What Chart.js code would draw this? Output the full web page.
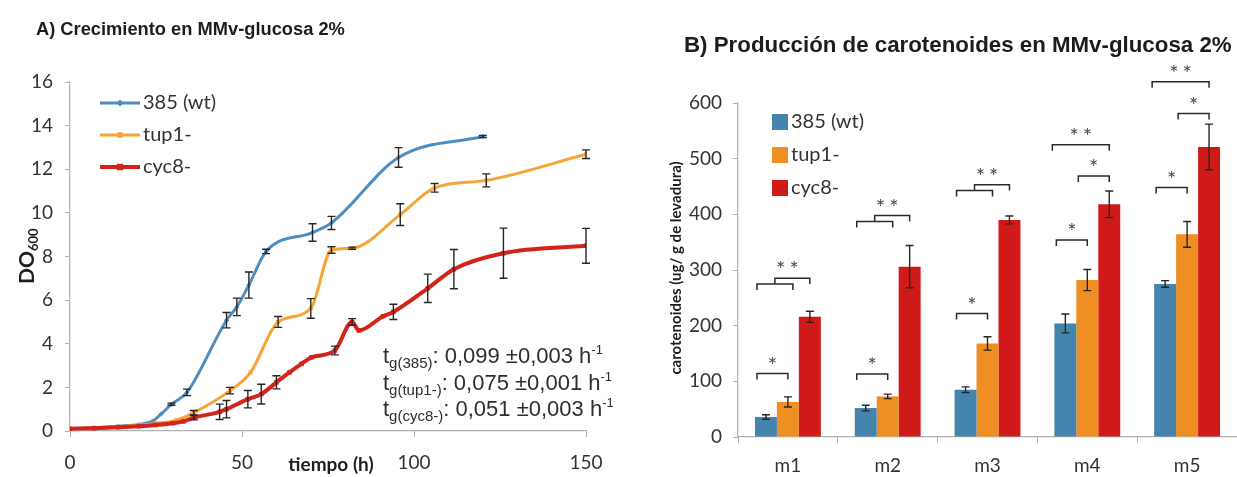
<!DOCTYPE html>
<html>
<head>
<meta charset="utf-8">
<script src="https://cdn.jsdelivr.net/npm/chart.js@4.4.1/dist/chart.umd.min.js"></script>
<style>
  html, body { margin: 0; padding: 0; background: #fff; width: 1237px; height: 477px; overflow: hidden; }
  .panel { position: absolute; top: 0; height: 477px; }
  #panelA { left: 0; width: 620px; }
  #panelB { left: 620px; width: 617px; }
  .ttl { position: absolute; font-family: "Liberation Sans", Arial, sans-serif; font-weight: bold;
         color: #1c1c1c; white-space: nowrap; z-index: 2; }
</style>
</head>
<body>
<div id="panelA" class="panel"><canvas id="growth"></canvas></div>
<div id="panelB" class="panel"><canvas id="carot"></canvas></div>
<div class="ttl" style="left:36px; top:18px; font-size:18.3px;">A) Crecimiento en MMv-glucosa 2%</div>
<div class="ttl" style="left:684px; top:32px; font-size:22.3px;">B) Producción de carotenoides en MMv-glucosa 2%</div>

<script>
// ---------- A) growth curves: optical density over time ----------
const strainNames = ['385 (wt)', 'tup1-', 'cyc8-'];

const hours385 = [0, 7, 14, 20, 24, 26.5, 29.5, 34, 45.5, 48.5, 52, 57, 70.5, 76, 95.5, 120];
const od385    = [0.1, 0.15, 0.22, 0.3, 0.45, 0.78, 1.23, 1.77, 5.08, 5.69, 6.69, 8.23, 9.1, 9.54, 12.54, 13.5];
const sd385    = [0, 0, 0, 0, 0, 0, 0.05, 0.15, 0.35, 0.4, 0.6, 0.1, 0.4, 0.3, 0.45, 0.05];

const hoursTup1 = [0, 7, 14, 20, 25, 31, 36, 46.5, 52.5, 60.5, 70, 76, 82, 96, 106, 121, 150];
const odTup1    = [0.1, 0.14, 0.2, 0.27, 0.35, 0.5, 0.84, 1.85, 2.69, 5.0, 5.62, 8.3, 8.38, 9.92, 11.15, 11.49, 12.69];
const sdTup1    = [0, 0, 0, 0, 0, 0, 0.1, 0.15, 0, 0.25, 0.45, 0.15, 0.05, 0.5, 0.2, 0.3, 0.2];

const hoursCyc8 = [0, 7, 14, 20, 25, 30, 33, 36, 43.5, 45.5, 51.7, 55.6, 60, 63.8, 67.3, 70.2, 77, 82, 84, 91, 94, 104, 111.6, 126, 150];
const odCyc8    = [0.1, 0.13, 0.17, 0.22, 0.28, 0.36, 0.44, 0.61, 0.88, 1.0, 1.46, 1.69, 2.23, 2.69, 3.08, 3.38, 3.69, 5.0, 4.61, 5.26, 5.46, 6.54, 7.42, 8.15, 8.49];
const sdCyc8    = [0, 0, 0, 0, 0, 0, 0, 0.1, 0.35, 0.4, 0.4, 0.45, 0.3, 0, 0, 0, 0.2, 0.15, 0, 0, 0.35, 0.65, 0.9, 1.15, 0.8];

const hourTicks = [0, 50, 100, 150];
const odTicks = [0, 2, 4, 6, 8, 10, 12, 14, 16];

// specific growth rates printed in the plot
const rateLabels = ['385', 'tup1-', 'cyc8-'];
const rateValues = ['0,099', '0,075', '0,051'];
const rateErrors = ['0,003', '0,001', '0,003'];

// ---------- B) carotenoid production per sample ----------
const samples = ['m1', 'm2', 'm3', 'm4', 'm5'];
const car385  = [36, 52, 85, 204, 275];
const carTup1 = [63, 73, 168, 282, 364];
const carCyc8 = [216, 306, 390, 418, 521];
const sdCar385  = [4, 5, 5, 17, 6];
const sdCarTup1 = [9, 4, 12, 19, 23];
const sdCarCyc8 = [10, 38, 7, 24, 41];
const carTicks = [0, 100, 200, 300, 400, 500, 600];

// significance between two strains: [sample, strain A, strain B, bracket level, stars]
const sigPairs = [
  [0, 0, 1, 114, '*'], [1, 0, 1, 113, '*'], [2, 0, 1, 222, '*'], [3, 0, 1, 354, '*'], [4, 0, 1, 448, '*'],
  [3, 1, 2, 469, '*'], [4, 1, 2, 581, '*'],
  [3, 0, 2, 525, '**'], [4, 0, 2, 638, '**']
];
// significance of (385, tup1-) together vs cyc8-: [sample, lower level, upper level, stars]
const sigGroups = [[0, 275, 285, '**'], [1, 387, 398, '**'], [2, 443, 453, '**']];

const lineColors = ['#4d8dbf', '#f6a534', '#d3241c'];
const barColors  = ['#4585ad', '#ef8e22', '#d01a1a'];
const tickFont = { family: 'Lato', size: 19 };
const axisGray = '#b0b0b0';
const textColor = '#333';

// ---------- shared: vertical error bars from each dataset's "errors" ----------
const errorBars = {
  id: 'errorBars',
  afterDatasetsDraw(chart) {
    const ctx = chart.ctx, ys = chart.scales.y;
    ctx.save();
    ctx.strokeStyle = '#262626';
    ctx.lineWidth = 1.4;
    chart.data.datasets.forEach((ds, di) => {
      if (!ds.errors) return;
      const meta = chart.getDatasetMeta(di);
      meta.data.forEach((el, i) => {
        const e = ds.errors[i];
        if (!e) return;
        const raw = ds.data[i];
        const v = typeof raw === 'object' ? raw.y : raw;
        const x = el.x, y1 = ys.getPixelForValue(v + e), y2 = ys.getPixelForValue(v - e);
        const cap = ds.capHalf || 4;
        ctx.beginPath();
        ctx.moveTo(x, y1); ctx.lineTo(x, y2);
        ctx.moveTo(x - cap, y1); ctx.lineTo(x + cap, y1);
        ctx.moveTo(x - cap, y2); ctx.lineTo(x + cap, y2);
        ctx.stroke();
      });
    });
    ctx.restore();
  }
};

function runs(parts, ctx, x, y) {
  // draws a sequence of text pieces with their own size/offset; returns end x
  parts.forEach(p => {
    ctx.font = (p.weight || '') + ' ' + p.size + 'px ' + (p.family || 'Lato');
    ctx.fillText(p.t, x, y + (p.dy || 0));
    x += ctx.measureText(p.t).width;
  });
  return x;
}

// ---------- panel A decorations: legend, axis titles, growth rates ----------
const growthDecor = {
  id: 'growthDecor',
  afterDraw(chart) {
    const ctx = chart.ctx;
    ctx.save();
    // legend
    const ly = [103, 135, 167];
    chart.data.datasets.forEach((ds, i) => {
      ctx.strokeStyle = ds.borderColor;
      ctx.lineWidth = ds.borderWidth;
      ctx.beginPath(); ctx.moveTo(100, ly[i]); ctx.lineTo(140, ly[i]); ctx.stroke();
      ctx.fillStyle = ds.borderColor;
      const r = ds.pointRadius;
      if (ds.pointStyle === 'rectRot') {
        ctx.beginPath(); ctx.moveTo(120, ly[i] - r - 1); ctx.lineTo(120 + r + 1, ly[i]);
        ctx.lineTo(120, ly[i] + r + 1); ctx.lineTo(120 - r - 1, ly[i]); ctx.closePath(); ctx.fill();
      } else {
        ctx.fillRect(120 - r, ly[i] - r, 2 * r, 2 * r);
      }
      ctx.fillStyle = textColor;
      ctx.font = '20px Lato';
      ctx.textBaseline = 'middle';
      ctx.fillText(ds.label, 143, ly[i]);
    });

    // y axis title DO600
    ctx.fillStyle = '#1e1e1e';
    ctx.textBaseline = 'alphabetic';
    ctx.translate(34, 284);
    ctx.rotate(-Math.PI / 2);
    runs([{ t: 'DO', size: 21, weight: 'bold' }, { t: '600', size: 13, weight: 'bold', dy: 4 }], ctx, 0, 0);
    ctx.setTransform(1, 0, 0, 1, 0, 0);

    // x axis title
    ctx.font = 'bold 19px Lato';
    ctx.textAlign = 'center';
    ctx.textBaseline = 'middle';
    ctx.fillText('tiempo (h)', 331, 465);

    // growth rates
    ctx.textAlign = 'left';
    ctx.textBaseline = 'alphabetic';
    ctx.fillStyle = '#2e2e2e';
    const fam = '"Liberation Sans", Arial, sans-serif';
    const base = [363, 390, 416];
    rateLabels.forEach((lab, i) => {
      runs([
        { t: 't', size: 22, family: fam },
        { t: 'g(' + lab + ')', size: 15, family: fam, dy: 5 },
        { t: ': ' + rateValues[i] + ' \u00b1' + rateErrors[i] + ' h', size: 22, family: fam },
        { t: '-1', size: 13, family: fam, dy: -9 }
      ], ctx, 383, base[i]);
    });
    ctx.restore();
  }
};

function lineSet(i, hours, od, sd, style, radius, width, order) {
  return {
    label: strainNames[i],
    data: hours.map((h, k) => ({ x: h, y: od[k] })),
    errors: sd,
    borderColor: lineColors[i],
    backgroundColor: lineColors[i],
    borderWidth: width,
    pointStyle: style,
    pointRadius: radius,
    pointBorderWidth: 0,
    cubicInterpolationMode: 'monotone',
    order: order
  };
}

new Chart(document.getElementById('growth'), {
  type: 'line',
  data: {
    datasets: [
      lineSet(0, hours385, od385, sd385, 'rectRot', 2.5, 3, 2),
      lineSet(1, hoursTup1, odTup1, sdTup1, 'rect', 2.8, 3, 1),
      lineSet(2, hoursCyc8, odCyc8, sdCyc8, 'rect', 3.2, 4, 0)
    ]
  },
  options: {
    responsive: true,
    maintainAspectRatio: false,
    animation: false,
    layout: { padding: { top: 82, right: 34, left: 0, bottom: 0 } },
    plugins: { legend: { display: false }, tooltip: { enabled: false } },
    scales: {
      x: {
        type: 'linear', min: 0, max: 150,
        afterFit(s) { s.height = 46; },
        afterBuildTicks(s) { s.ticks = hourTicks.map(v => ({ value: v })); },
        grid: { display: true, drawOnChartArea: false, tickLength: 6, color: axisGray },
        border: { display: true, color: axisGray, width: 1.2 },
        ticks: { font: tickFont, color: textColor, padding: 14, maxRotation: 0 }
      },
      y: {
        min: 0, max: 16,
        afterFit(s) { s.width = 70; },
        afterBuildTicks(s) { s.ticks = odTicks.map(v => ({ value: v })); },
        grid: { display: true, drawOnChartArea: false, tickLength: 5, color: axisGray },
        border: { display: true, color: axisGray, width: 1.2 },
        ticks: { font: tickFont, color: textColor, padding: 12 }
      }
    }
  },
  plugins: [errorBars, growthDecor]
});

// ---------- panel B decorations: legend, axis title, significance brackets ----------
const carotDecor = {
  id: 'carotDecor',
  afterDraw(chart) {
    const ctx = chart.ctx, ys = chart.scales.y;
    ctx.save();
    // legend
    const ly = [122, 155, 188];
    chart.data.datasets.forEach((ds, i) => {
      ctx.fillStyle = ds.backgroundColor;
      ctx.fillRect(152, ly[i] - 8, 16, 16);
      ctx.fillStyle = textColor;
      ctx.font = '20px Lato';
      ctx.textBaseline = 'middle';
      ctx.fillText(ds.label, 171, ly[i]);
    });

    // y axis title
    ctx.fillStyle = '#1e1e1e';
    ctx.font = 'bold 15px Lato';
    ctx.textAlign = 'center';
    ctx.textBaseline = 'middle';
    ctx.translate(56, 268);
    ctx.rotate(-Math.PI / 2);
    ctx.fillText('carotenoides (ug/ g de levadura)', 0, 0);
    ctx.setTransform(1, 0, 0, 1, 0, 0);

    // significance brackets
    const cx = (s, k) => chart.getDatasetMeta(k).data[s].x;
    const drop = 6;
    ctx.strokeStyle = '#2a2a2a';
    ctx.lineWidth = 1.5;
    ctx.fillStyle = '#4a4a4a';
    ctx.font = '22px Lato';
    ctx.textAlign = 'center';
    ctx.textBaseline = 'middle';
    const star = (txt, x, y) => {
      ctx.letterSpacing = txt.length > 1 ? '4px' : '0px';
      ctx.fillText(txt, x + (txt.length > 1 ? 2 : 0), y - 8);
    };
    sigPairs.forEach(([s, a, b, lvl, txt]) => {
      const x1 = cx(s, a) - (5 + 4 * (b - a)), x2 = cx(s, b), y = ys.getPixelForValue(lvl);
      ctx.beginPath();
      ctx.moveTo(x1, y + drop); ctx.lineTo(x1, y); ctx.lineTo(x2, y); ctx.lineTo(x2, y + drop);
      ctx.stroke();
      star(txt, (x1 + x2) / 2, y);
    });
    sigGroups.forEach(([s, lo, hi, txt]) => {
      const x1 = cx(s, 0) - 9, x2 = cx(s, 1) + 5, x3 = cx(s, 2);
      const yl = ys.getPixelForValue(lo), yh = ys.getPixelForValue(hi);
      const xm = (x1 + x2) / 2;
      ctx.beginPath();
      ctx.moveTo(x1, yl + drop); ctx.lineTo(x1, yl); ctx.lineTo(x2, yl); ctx.lineTo(x2, yl + drop);
      ctx.moveTo(xm, yl); ctx.lineTo(xm, yh); ctx.lineTo(x3, yh); ctx.lineTo(x3, yl);
      ctx.stroke();
      star(txt, (x1 + x3) / 2 + 4, yh);
    });
    ctx.restore();
  }
};

function barSet(i, values, sd) {
  return {
    label: strainNames[i],
    data: values,
    errors: sd,
    capHalf: 4,
    backgroundColor: barColors[i],
    borderWidth: 0,
    categoryPercentage: 0.66,
    barPercentage: 1.0
  };
}

new Chart(document.getElementById('carot'), {
  type: 'bar',
  data: {
    labels: samples,
    datasets: [barSet(0, car385, sdCar385), barSet(1, carTup1, sdCarTup1), barSet(2, carCyc8, sdCarCyc8)]
  },
  options: {
    responsive: true,
    maintainAspectRatio: false,
    animation: false,
    layout: { padding: { top: 103, right: 0, left: 0, bottom: 0 } },
    plugins: { legend: { display: false }, tooltip: { enabled: false } },
    scales: {
      x: {
        afterFit(s) { s.height = 40; },
        grid: { display: true, drawOnChartArea: false, tickLength: 6, color: axisGray, offset: true },
        border: { display: true, color: axisGray, width: 1.2 },
        ticks: { font: tickFont, color: textColor, padding: 11 }
      },
      y: {
        min: 0, max: 600,
        afterFit(s) { s.width = 118; },
        afterBuildTicks(s) { s.ticks = carTicks.map(v => ({ value: v })); },
        grid: { display: true, drawOnChartArea: false, tickLength: 5, color: axisGray },
        border: { display: true, color: axisGray, width: 1.2 },
        ticks: { font: tickFont, color: textColor, padding: 11 }
      }
    }
  },
  plugins: [errorBars, carotDecor]
});
</script>
</body>
</html>
